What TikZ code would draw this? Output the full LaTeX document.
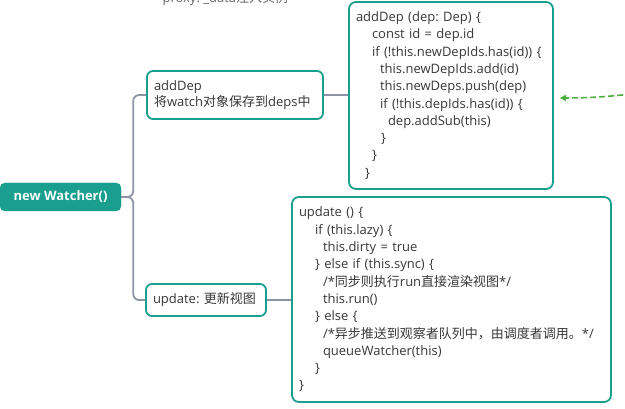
\documentclass[tikz,border=0pt]{standalone}
\usepackage{fontspec}
\setmainfont{Open Sans}
\newfontfamily\cjkfont{Noto Sans CJK SC}
\newcommand{\zh}[1]{{\cjkfont #1}}
\frenchspacing
\usetikzlibrary{arrows.meta,calc}
\definecolor{tealc}{HTML}{1A9E8E}
\definecolor{trunkc}{HTML}{8E94A3}
\definecolor{txtc}{HTML}{383838}
\definecolor{grnc}{HTML}{4CAF3F}
\definecolor{topc}{HTML}{666666}
\tikzset{
  rootbox/.style={fill=tealc, draw=tealc, rounded corners=5pt, text=white, font=\fontsize{13}{15}\selectfont\bfseries, inner sep=0pt, minimum width=121pt, minimum height=28pt},
  topicbox/.style={draw=tealc, line width=1.8pt, fill=white, rounded corners=6pt, text=txtc, align=left, inner sep=0pt, inner xsep=7pt},
  codebox/.style={draw=tealc, line width=1.8pt, fill=white, rounded corners=7pt, text=txtc, align=left, inner sep=0pt, inner xsep=7pt, font=\fontsize{13}{17.3}\selectfont},
  trunkline/.style={draw=trunkc, line width=1.8pt, rounded corners=6pt},
  gdash/.style={draw=grnc, line width=1.6pt, dash pattern=on 6pt off 3pt, -{Triangle[length=6pt,width=6pt]}}
}
\newcommand{\ind}[1]{\hspace*{#1pt}}
\begin{document}
\begin{tikzpicture}[x=1pt,y=-1pt]
\frenchspacing
\useasboundingbox (0,0) rectangle (625,409);
\node[text=topc, anchor=base west, font=\fontsize{13}{15}\selectfont] (toptext) at (159,2.5) {proxy: \_data\zh{注入实例}};
\node[rootbox] (root) at (60.5,197) {new Watcher()};
\node[topicbox, minimum width=176pt, minimum height=48pt, text width=162pt, font=\fontsize{13}{16}\selectfont] (adddep) at (235,95) {addDep\\\zh{将}watch\zh{对象保存到}deps\zh{中}};
\node[topicbox, minimum width=120pt, minimum height=32pt, text width=106pt, font=\fontsize{13}{16}\selectfont] (update) at (206,300) {update: \zh{更新视图}};
\node[codebox, minimum width=204pt, minimum height=187pt, text width=190pt] (code1) at (451,95.5) {%
addDep (dep: Dep) \{\\
\ind{16}const id = dep.id\\
\ind{16}if (!this.newDepIds.has(id)) \{\\
\ind{24}this.newDepIds.add(id)\\
\ind{24}this.newDeps.push(dep)\\
\ind{24}if (!this.depIds.has(id)) \{\\
\ind{32}dep.addSub(this)\\
\ind{25}\}\\
\ind{16}\}\\
\ind{9}\}};
\node[codebox, minimum width=319pt, minimum height=205pt, text width=305pt] (code2) at (451.5,299.5) {%
update () \{\\
\ind{16}if (this.lazy) \{\\
\ind{24}this.dirty = true\\
\ind{16}\} else if (this.sync) \{\\
\ind{24}/*\zh{同步则执行}run\zh{直接渲染视图}*/\\
\ind{24}this.run()\\
\ind{16}\} else \{\\
\ind{24}/*\zh{异步推送到观察者队列中，由调度者调用。}*/\\
\ind{24}queueWatcher(this)\\
\ind{16}\}\\
\}};
\draw[trunkline] (root.east) -- ++(12,0) |- (adddep.west);
\draw[trunkline] (root.east) -- ++(12,0) |- (update.west);
\draw[trunkline] (adddep.east) -- (adddep.east -| code1.west);
\draw[trunkline] (update.east) -- (update.east -| code2.west);
\coordinate (gstart) at (632,94);
\draw[gdash] (gstart) to[bend left=3] ($(code1.east)+(6,2.5)$);
\end{tikzpicture}
\end{document}
